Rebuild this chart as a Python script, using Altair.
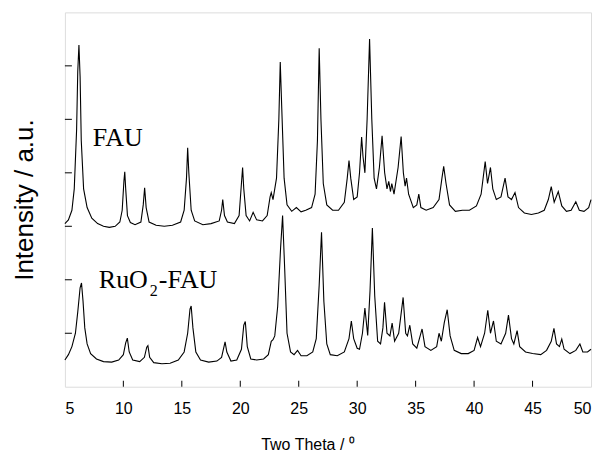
import altair as alt
import pandas as pd

# ---- data ----
fau_x = [5.0, 5.3, 5.6, 5.8, 6.0, 6.1, 6.2, 6.3, 6.4, 6.6, 6.9, 7.3, 7.8, 8.3, 8.8, 9.3, 9.7, 9.9, 10.05, 10.12,
         10.2, 10.35, 10.6, 11.0, 11.5, 11.7, 11.82, 11.95, 12.2, 12.8, 13.5, 14.2, 14.9, 15.2, 15.4, 15.5, 15.6,
         15.8, 16.1, 16.8, 17.5, 18.2, 18.4, 18.5, 18.65, 18.9, 19.5, 19.9, 20.1, 20.2, 20.3, 20.5, 20.8, 21.1,
         21.4, 21.9, 22.3, 22.55, 22.65, 22.8, 23.1, 23.3, 23.42, 23.55, 23.75, 24.0, 24.4, 24.8, 25.2, 25.6,
         26.1, 26.4, 26.6, 26.75, 26.9, 27.1, 27.4, 27.9, 28.4, 28.9, 29.15, 29.3, 29.45, 29.7, 30.0, 30.2,
         30.38, 30.5, 30.66, 30.85, 31.06, 31.25, 31.45, 31.65, 31.9, 32.13, 32.35, 32.55, 32.7, 32.85, 32.96,
         33.15, 33.5, 33.76, 33.95, 34.1, 34.22, 34.4, 34.8, 35.1, 35.27, 35.45, 35.9, 36.5, 37.0, 37.25, 37.4,
         37.6, 37.9, 38.4, 39.0, 39.6, 40.2, 40.6, 40.95, 41.15, 41.4, 41.6, 41.9, 42.3, 42.65, 42.9, 43.2, 43.5,
         43.8, 44.3, 44.9, 45.5, 46.0, 46.35, 46.6, 46.85, 47.2, 47.5, 47.9, 48.3, 48.7, 49.0, 49.4, 49.8, 50.0]
fau_y = [3.05, 3.12, 3.3, 3.7, 4.8, 5.9, 6.39, 5.8, 4.6, 3.7, 3.35, 3.15, 3.05, 3.0, 2.98, 3.0, 3.08, 3.3, 3.85, 4.02,
         3.7, 3.2, 3.07, 3.03, 3.08, 3.4, 3.72, 3.35, 3.08, 3.02, 3.0, 3.02, 3.08, 3.3, 3.9, 4.47, 4.0,
         3.3, 3.1, 3.03, 3.05, 3.1, 3.3, 3.5, 3.2, 3.08, 3.05, 3.2, 3.8, 4.1, 3.7, 3.2, 3.1, 3.26,
         3.12, 3.1, 3.2, 3.55, 3.63, 3.5, 3.9, 5.0, 6.07, 5.2, 3.9, 3.4, 3.28, 3.35, 3.27, 3.3,
         3.35, 3.6, 4.6, 6.33, 5.0, 3.8, 3.4, 3.3, 3.3, 3.45, 3.9, 4.23, 3.9, 3.5, 3.55, 4.0,
         4.67, 4.3, 4.0, 5.0, 6.5, 5.0, 3.9, 3.7, 4.1, 4.69, 4.0, 3.7, 3.84, 3.65, 3.8,
         3.6, 4.1, 4.68, 4.0, 3.75, 3.9, 3.6, 3.35, 3.4, 3.6, 3.35, 3.3, 3.35, 3.5, 3.9, 4.12,
         3.8, 3.4, 3.28, 3.3, 3.3, 3.38, 3.6, 4.21, 3.8, 4.1, 3.7, 3.5, 3.55, 3.9, 3.55, 3.5, 3.63,
         3.35, 3.25, 3.22, 3.25, 3.3, 3.5, 3.74, 3.45, 3.65, 3.38, 3.28, 3.3, 3.46, 3.3, 3.28, 3.35, 3.5]

ru_x = [5.0, 5.3, 5.6, 5.9, 6.1, 6.3, 6.42, 6.55, 6.7, 6.9, 7.2, 7.7, 8.3, 9.0, 9.6, 10.0, 10.2, 10.34, 10.5, 10.8,
        11.4, 11.8, 12.0, 12.1, 12.25, 12.6, 13.3, 14.0, 14.7, 15.2, 15.5, 15.7, 15.8, 15.95, 16.2, 16.6, 17.3,
        18.0, 18.4, 18.7, 18.85, 19.2, 19.7, 20.1, 20.3, 20.43, 20.6, 20.9, 21.4, 22.0, 22.4, 22.65, 22.8, 22.95,
        23.2, 23.45, 23.62, 23.8, 24.0, 24.3, 24.6, 24.9, 25.2, 25.7, 26.2, 26.5, 26.75, 26.95, 27.15, 27.4,
        27.7, 28.3, 28.9, 29.3, 29.5, 29.7, 30.0, 30.2, 30.45, 30.66, 30.9, 31.1, 31.3, 31.5, 31.75, 32.0, 32.2,
        32.34, 32.55, 32.8, 32.99, 33.2, 33.55, 33.93, 34.15, 34.3, 34.5, 34.75, 35.1, 35.55, 35.8, 36.3, 36.8,
        37.0, 37.2, 37.45, 37.7, 37.95, 38.3, 38.9, 39.5, 40.0, 40.3, 40.55, 40.9, 41.17, 41.4, 41.66, 41.9,
        42.3, 42.7, 42.94, 43.2, 43.4, 43.68, 43.9, 44.4, 45.0, 45.7, 46.2, 46.6, 46.83, 47.05, 47.3, 47.5,
        47.7, 48.2, 48.7, 49.05, 49.3, 49.7, 50.0]
ru_y = [0.5, 0.6, 0.75, 1.0, 1.4, 1.85, 1.94, 1.6, 1.1, 0.8, 0.62, 0.52, 0.47, 0.46, 0.5, 0.6, 0.82, 0.91, 0.65, 0.5,
        0.47, 0.55, 0.74, 0.77, 0.55, 0.45, 0.43, 0.44, 0.5, 0.65, 1.0, 1.45, 1.51, 1.1, 0.65, 0.5, 0.46,
        0.48, 0.55, 0.84, 0.65, 0.48, 0.5, 0.7, 1.15, 1.22, 0.75, 0.52, 0.5, 0.52, 0.6, 0.85, 0.88, 0.95,
        1.5, 2.6, 3.2, 2.2, 1.0, 0.65, 0.6, 0.68, 0.58, 0.58, 0.65, 0.9, 1.9, 2.89, 1.6, 0.8,
        0.6, 0.58, 0.65, 0.9, 1.23, 0.9, 0.72, 0.7, 1.0, 1.47, 0.96, 1.8, 2.97, 1.7, 0.85, 0.8, 1.1,
        1.58, 1.0, 0.95, 1.19, 0.85, 1.0, 1.67, 1.0, 0.95, 1.15, 0.8, 0.72, 1.08, 0.75, 0.68, 0.75,
        1.0, 0.85, 1.2, 1.44, 0.95, 0.68, 0.62, 0.62, 0.68, 0.92, 0.75, 1.0, 1.43, 1.0, 1.23, 0.85,
        0.8, 1.0, 1.34, 0.9, 0.8, 1.05, 0.75, 0.65, 0.62, 0.6, 0.68, 0.85, 1.09, 0.8, 0.75, 0.89,
        0.7, 0.62, 0.68, 0.8, 0.65, 0.65, 0.7]

x_ticks = [10, 15, 20, 25, 30, 35, 40, 45]
y_ticks = [1, 2, 3, 4, 5, 6]

W, H = 527, 375

df = pd.concat([
    pd.DataFrame({"t": fau_x, "i": fau_y, "s": "FAU"}),
    pd.DataFrame({"t": ru_x, "i": ru_y, "s": "RuO2-FAU"}),
])

xs = alt.Scale(domain=[5, 50], nice=False, zero=False)
ys = alt.Scale(domain=[0, 7], nice=False, zero=False)

lines = alt.Chart(df).mark_line(color="black", strokeWidth=1.1).encode(
    x=alt.X("t:Q", scale=xs, title="Two Theta / \u2070",
            axis=alt.Axis(values=[5, 10, 15, 20, 25, 30, 35, 40, 45, 50], format="d", ticks=False, grid=False,
                          domain=False, labelFont="Liberation Sans", labelFontSize=16, labelColor="black",
                          labelPadding=14, titleFont="Liberation Sans", titleFontSize=16,
                          titleFontWeight="normal", titleColor="black",
                          titleX=243, titleY=58, titleAlign="center", titleBaseline="middle")),
    y=alt.Y("i:Q", scale=ys, title="Intensity / a.u.",
            axis=alt.Axis(labels=False, ticks=False, grid=False, domain=False,
                          titleFont="Liberation Sans", titleFontSize=26, titleFontWeight="normal",
                          titleColor="black", titlePadding=27)),
    detail="s:N",
    order="t:Q",
)

xt = alt.Chart(pd.DataFrame({"v": x_ticks})).mark_rule(color="black", strokeWidth=1).encode(
    x=alt.X("v:Q", scale=xs), y=alt.value(H), y2=alt.value(H - 6))
yt = alt.Chart(pd.DataFrame({"v": y_ticks})).mark_rule(color="black", strokeWidth=1).encode(
    y=alt.Y("v:Q", scale=ys), x=alt.value(0), x2=alt.value(7))

one = alt.Data(values=[{"k": 1}])
serif = "Liberation Serif"
t1 = alt.Chart(one).mark_text(font=serif, fontSize=26, align="left", baseline="alphabetic", color="black").encode(
    x=alt.value(28), y=alt.value(134), text=alt.value("FAU"))
t2 = alt.Chart(one).mark_text(font=serif, fontSize=26, align="left", baseline="alphabetic", color="black").encode(
    x=alt.value(34), y=alt.value(276), text=alt.value("RuO"))
t3 = alt.Chart(one).mark_text(font=serif, fontSize=16, align="left", baseline="alphabetic", color="black").encode(
    x=alt.value(85), y=alt.value(284), text=alt.value("2"))
t4 = alt.Chart(one).mark_text(font=serif, fontSize=26, align="left", baseline="alphabetic", color="black").encode(
    x=alt.value(94), y=alt.value(276), text=alt.value("-FAU"))

chart = alt.layer(lines, xt, yt, t1, t2, t3, t4).properties(
    width=W, height=H,
    autosize=alt.AutoSizeParams(type="none"),
    padding={"left": 57, "top": 4, "right": 3, "bottom": 68},
).configure_view(stroke="black", strokeWidth=1).configure(background="white")

chart.save("out.html", embed_options={"renderer": "svg", "actions": False})
